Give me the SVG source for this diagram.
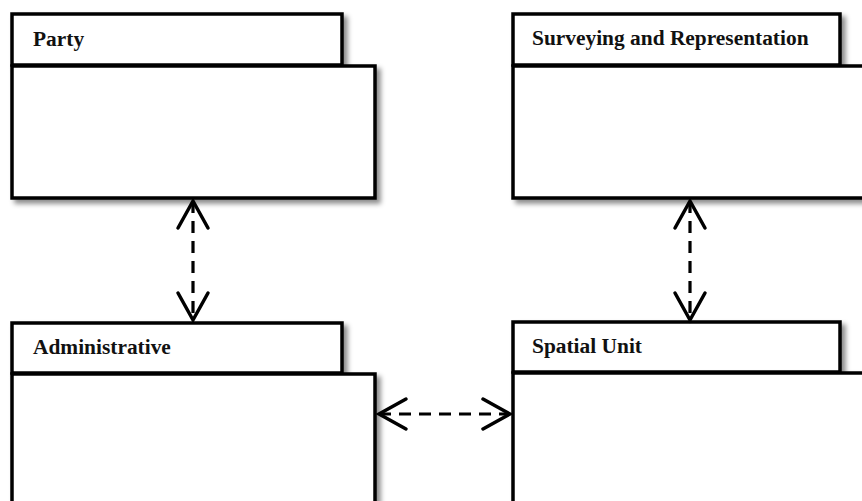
<svg xmlns="http://www.w3.org/2000/svg" width="862" height="501" viewBox="0 0 862 501">
<defs>
<filter id="sh" x="-10%" y="-10%" width="130%" height="130%">
<feDropShadow dx="4" dy="4" stdDeviation="2.5" flood-color="#000" flood-opacity="0.45"/>
</filter>
<marker id="open" viewBox="-30 -18 34 36" markerWidth="34" markerHeight="36" refX="0" refY="0" orient="auto-start-reverse" markerUnits="userSpaceOnUse">
<path d="M-27,-15 L0,0 L-27,15" fill="none" stroke="#000" stroke-width="3.5" stroke-linecap="round" stroke-linejoin="miter"/>
</marker>
</defs>
<style>
.box{fill:#fff;stroke:#000;stroke-width:3.5;filter:url(#sh)}
.lbl{font-family:"Liberation Serif","Times New Roman",serif;font-weight:bold;font-size:21.4px;fill:#111}
.dep{fill:none;stroke:#000;stroke-width:3.2;stroke-dasharray:12 8;marker-start:url(#open);marker-end:url(#open)}
</style>
<rect width="862" height="501" fill="#fff"/>
<g id="party">
<rect class="box" x="12" y="14" width="330" height="51"/>
<rect class="box" x="12" y="66" width="363" height="132"/>
<text class="lbl" x="33" y="46">Party</text>
</g>
<g id="surveying">
<rect class="box" x="513" y="14" width="327" height="51"/>
<rect class="box" x="513" y="66" width="400" height="132"/>
<text class="lbl" x="532" y="45">Surveying and Representation</text>
</g>
<g id="administrative">
<rect class="box" x="12" y="323" width="330" height="50"/>
<rect class="box" x="12" y="374" width="363" height="200"/>
<text class="lbl" x="33" y="354">Administrative</text>
</g>
<g id="spatial">
<rect class="box" x="513" y="322" width="327" height="50"/>
<rect class="box" x="513" y="373" width="400" height="200"/>
<text class="lbl" x="532" y="353">Spatial Unit</text>
</g>
<g id="connectors">
<path class="dep" d="M193,201 L193,320"/>
<path class="dep" d="M690,201 L690,320"/>
<path class="dep" d="M379,414 L510,414"/>
</g>
</svg>
